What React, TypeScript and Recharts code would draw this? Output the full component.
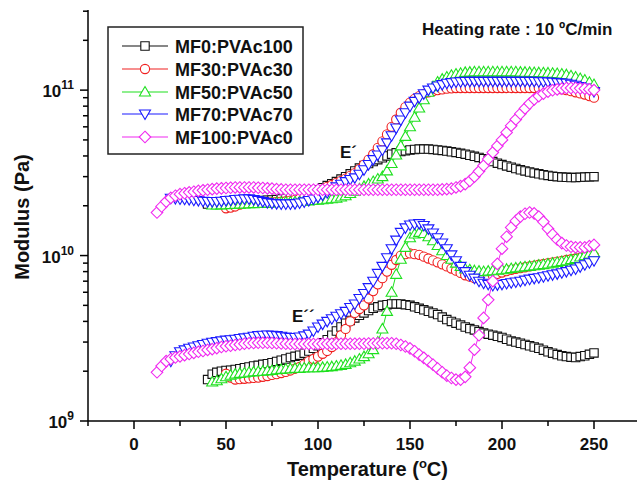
import React from "react";
import { Line, LineChart, XAxis, YAxis } from "recharts";

// temperature grid (°C), 2.5 degree steps
const temps = [
  12.5, 15, 17.5, 20, 22.5, 25, 27.5, 30, 32.5, 35,
  37.5, 40, 42.5, 45, 47.5, 50, 52.5, 55, 57.5, 60,
  62.5, 65, 67.5, 70, 72.5, 75, 77.5, 80, 82.5, 85,
  87.5, 90, 92.5, 95, 97.5, 100, 102.5, 105, 107.5, 110,
  112.5, 115, 117.5, 120, 122.5, 125, 127.5, 130, 132.5, 135,
  137.5, 140, 142.5, 145, 147.5, 150, 152.5, 155, 157.5, 160,
  162.5, 165, 167.5, 170, 172.5, 175, 177.5, 180, 182.5, 185,
  187.5, 190, 192.5, 195, 197.5, 200, 202.5, 205, 207.5, 210,
  212.5, 215, 217.5, 220, 222.5, 225, 227.5, 230, 232.5, 235,
  237.5, 240, 242.5, 245, 247.5, 250,
];

// values in GPa; each list starts at its own temperature
const mf0Start = 40;
const mf0Storage = [
  20.5, 20.6, 20.8, 20.9, 21.0, 21.0, 21.0, 21.1, 21.2, 21.2,
  21.3, 21.4, 21.5, 21.6, 21.7, 21.8, 22.0, 22.2, 22.5, 22.7,
  23.0, 23.5, 24.0, 24.5, 25.0, 25.7, 26.5, 27.2, 28.0, 29.0,
  30.0, 31.2, 32.5, 33.8, 35.0, 36.0, 37.0, 38.0, 39.0, 40.0,
  41.0, 41.8, 42.5, 43.0, 43.5, 43.8, 44.0, 44.0, 44.0, 43.8,
  43.5, 43.2, 42.8, 42.4, 42.0, 41.5, 41.0, 40.4, 39.8, 39.2,
  38.5, 37.8, 37.0, 36.2, 35.5, 34.8, 34.2, 33.6, 33.0, 32.5,
  32.0, 31.6, 31.2, 30.8, 30.5, 30.2, 30.0, 29.8, 29.7, 29.6,
  29.6, 29.7, 29.8, 29.9, 30.0,
];
const mf0Loss = [
  1.78, 1.92, 1.97, 2.0, 2.02, 2.03, 2.05, 2.07, 2.1, 2.12,
  2.15, 2.17, 2.2, 2.22, 2.25, 2.29, 2.33, 2.37, 2.42, 2.46,
  2.5, 2.57, 2.65, 2.75, 2.85, 2.97, 3.1, 3.3, 3.5, 3.7,
  3.9, 4.05, 4.2, 4.35, 4.5, 4.65, 4.8, 4.9, 5.0, 5.05,
  5.1, 5.1, 5.1, 5.05, 5.0, 4.9, 4.8, 4.7, 4.6, 4.5,
  4.4, 4.25, 4.1, 4.0, 3.9, 3.8, 3.7, 3.62, 3.55, 3.47,
  3.4, 3.35, 3.3, 3.25, 3.2, 3.12, 3.05, 3.0, 2.95, 2.9,
  2.85, 2.8, 2.75, 2.68, 2.62, 2.57, 2.52, 2.48, 2.45, 2.43,
  2.42, 2.45, 2.48, 2.53, 2.58,
];

const mf30Start = 50;
const mf30Storage = [
  19.3, 19.5, 19.8, 20.3, 20.7, 20.8, 20.8, 20.9, 21.0, 21.0,
  21.0, 21.1, 21.2, 21.3, 21.5, 21.7, 22.0, 22.5, 23.0, 23.6,
  24.2, 25.1, 26.0, 26.7, 27.5, 28.3, 29.2, 30.3, 31.5, 33.3,
  35.5, 38.0, 41.0, 44.8, 49.0, 54.0, 60.0, 66.5, 73.0, 79.0,
  84.0, 88.5, 92.0, 95.0, 97.0, 98.5, 100, 101, 102, 102.5,
  103, 103, 103, 103, 103, 103, 103, 103, 103, 103,
  103, 103, 103, 103, 103, 103, 103, 103, 103, 103,
  102.5, 102.3, 102, 101, 100, 98.5, 97, 95.5, 94, 92,
  90,
];
const mf30Loss = [
  1.93, 1.83, 1.78, 1.79, 1.8, 1.81, 1.82, 1.83, 1.85, 1.87,
  1.9, 1.92, 1.95, 1.98, 2.02, 2.07, 2.12, 2.2, 2.3, 2.37,
  2.45, 2.55, 2.65, 2.8, 3.0, 3.3, 3.6, 4.0, 4.5, 4.75,
  5.0, 5.5, 6.1, 6.7, 7.3, 8.0, 8.8, 9.4, 10.0, 10.2,
  10.3, 10.2, 10.1, 9.85, 9.6, 9.35, 9.1, 8.85, 8.6, 8.35,
  8.1, 7.85, 7.6, 7.45, 7.3, 7.3, 7.3, 7.45, 7.6, 7.75,
  7.9, 8.05, 8.2, 8.3, 8.4, 8.5, 8.6, 8.7, 8.8, 8.9,
  9.0, 9.1, 9.2, 9.3, 9.4, 9.5, 9.6, 9.7, 9.8, 9.9,
  10.0,
];

const mf50Start = 42.5;
const mf50Storage = [
  20.2, 20.2, 20.25, 20.3, 20.35, 20.4, 20.45, 20.5, 20.55, 20.6,
  20.65, 20.7, 20.75, 20.8, 20.9, 21.0, 21.05, 21.1, 21.15, 21.2,
  21.3, 21.4, 21.5, 21.6, 21.75, 21.9, 22.05, 22.2, 22.6, 23.0,
  23.7, 24.5, 25.3, 26.2, 27.1, 28.0, 29.0, 30.0, 32.5, 36.0,
  40.5, 46.0, 52.5, 60.0, 68.5, 78.0, 87.5, 97.0, 105, 112,
  116.5, 120, 123, 125, 126.5, 128, 128.5, 129, 129, 129,
  129, 129, 129, 129, 129, 129, 129, 128.5, 128.3, 128,
  127.8, 127.5, 127.3, 127, 126.5, 126, 125, 124, 122, 120,
  117.5, 115, 111.5, 108,
];
const mf50Loss = [
  1.72, 1.75, 1.8, 1.85, 1.89, 1.92, 1.94, 1.95, 1.97, 1.98,
  1.99, 2.0, 2.01, 2.02, 2.04, 2.05, 2.06, 2.07, 2.08, 2.08,
  2.09, 2.1, 2.1, 2.1, 2.11, 2.12, 2.13, 2.15, 2.17, 2.2,
  2.25, 2.3, 2.37, 2.45, 2.55, 2.7, 3.0, 3.6, 4.6, 6.0,
  7.7, 9.5, 11.2, 12.8, 13.5, 13.8, 13.6, 13.0, 12.3, 11.5,
  10.7, 10.0, 9.5, 9.0, 8.6, 8.3, 8.2, 8.1, 8.05, 8.0,
  8.05, 8.1, 8.15, 8.2, 8.27, 8.35, 8.42, 8.5, 8.55, 8.6,
  8.67, 8.75, 8.82, 8.9, 9.0, 9.1, 9.2, 9.3, 9.45, 9.6,
  9.8, 10.0, 10.2, 10.4,
];

const mf70Start = 20;
const mf70Storage = [
  22.2, 22.1, 22.0, 21.9, 21.8, 21.6, 21.5, 21.3, 21.2, 21.2,
  21.2, 21.3, 21.5, 21.6, 21.8, 21.9, 22.0, 22.0, 21.8, 21.5,
  21.2, 20.9, 20.7, 20.6, 20.5, 20.5, 20.5, 20.6, 20.8, 21.1,
  21.5, 22.0, 22.5, 23.2, 24.0, 25.0, 26.0, 27.0, 28.0, 28.8,
  29.5, 31.0, 33.0, 35.5, 38.0, 40.5, 43.5, 48.0, 53.0, 59.0,
  66.0, 73.0, 80.0, 85.5, 90.0, 95.0, 100, 103, 106, 108,
  110, 111, 112, 112.5, 113, 113, 113, 113, 113, 113,
  113, 113, 113, 113, 113, 113, 113, 113, 113, 113,
  112.5, 112.3, 112, 111.5, 111, 110.5, 110, 108.5, 107, 105,
  103, 100.5, 98,
];
const mf70Loss = [
  2.3, 2.48, 2.62, 2.69, 2.75, 2.8, 2.85, 2.9, 2.95, 2.99,
  3.02, 3.05, 3.08, 3.1, 3.12, 3.15, 3.18, 3.21, 3.25, 3.28,
  3.3, 3.31, 3.3, 3.28, 3.25, 3.22, 3.2, 3.2, 3.22, 3.27,
  3.35, 3.5, 3.7, 3.85, 4.0, 4.15, 4.3, 4.45, 4.6, 4.85,
  5.1, 5.5, 5.9, 6.4, 7.0, 7.8, 8.6, 9.7, 11.0, 12.4,
  13.8, 14.7, 15.3, 15.5, 15.6, 15.2, 14.5, 13.7, 12.8, 11.9,
  11.0, 10.1, 9.3, 8.6, 8.0, 7.6, 7.3, 7.0, 6.8, 6.7,
  6.6, 6.65, 6.7, 6.78, 6.85, 6.92, 7.0, 7.1, 7.2, 7.28,
  7.35, 7.45, 7.55, 7.65, 7.75, 7.88, 8.0, 8.15, 8.3, 8.55,
  8.8, 9.05, 9.3,
];

const mf100Start = 12.5;
const mf100Storage = [
  18.2, 19.8, 21.2, 22.3, 23.0, 23.5, 23.8, 24.1, 24.3, 24.6,
  24.8, 25.0, 25.2, 25.4, 25.5, 25.6, 25.7, 25.8, 25.8, 25.8,
  25.8, 25.8, 25.7, 25.6, 25.5, 25.4, 25.2, 25.1, 25.0, 25.0,
  25.0, 25.0, 25.0, 25.0, 25.0, 25.0, 25.0, 25.0, 25.0, 25.0,
  25.0, 25.0, 25.0, 25.0, 25.0, 25.0, 25.0, 25.0, 25.0, 25.0,
  25.0, 25.0, 25.0, 25.0, 25.0, 25.0, 25.0, 25.0, 25.0, 25.0,
  25.0, 25.0, 25.1, 25.2, 25.4, 25.8, 26.3, 27.0, 28.3, 30.0,
  32.3, 35.0, 38.3, 42.0, 46.0, 50.0, 55.5, 61.0, 66.5, 72.0,
  77.5, 83.0, 88.0, 92.0, 95.3, 98.0, 99.8, 101, 102, 103,
  103, 103, 102.5, 102, 101, 100,
];
const mf100Loss = [
  1.97, 2.15, 2.3, 2.37, 2.42, 2.46, 2.5, 2.54, 2.58, 2.62,
  2.65, 2.69, 2.72, 2.76, 2.8, 2.83, 2.85, 2.88, 2.9, 2.93,
  2.95, 2.96, 2.97, 2.97, 2.97, 2.96, 2.95, 2.94, 2.93, 2.92,
  2.92, 2.92, 2.92, 2.92, 2.92, 2.92, 2.93, 2.93, 2.93, 2.93,
  2.93, 2.93, 2.93, 2.93, 2.93, 2.93, 2.94, 2.94, 2.95, 2.95,
  2.95, 2.95, 2.93, 2.88, 2.82, 2.75, 2.64, 2.52, 2.41, 2.3,
  2.19, 2.08, 1.97, 1.88, 1.82, 1.78, 1.78, 1.85, 2.1, 2.7,
  3.3, 4.2, 5.4, 7.0, 8.9, 11.0, 13.0, 14.8, 16.2, 17.2,
  17.9, 18.2, 18.0, 17.2, 16.0, 14.5, 13.4, 12.5, 11.9, 11.5,
  11.3, 11.2, 11.2, 11.2, 11.4, 11.6,
];

const xTicks = [-25, 0, 25, 50, 75, 100, 125, 150, 175, 200, 225, 250, 275];
const yTicks = [
  1e9, 2e9, 3e9, 4e9, 5e9, 6e9, 7e9, 8e9, 9e9, 1e10, 2e10, 3e10, 4e10, 5e10, 6e10, 7e10, 8e10, 9e10, 1e11,
  2e11, 3e11,
];

type Shape = "square" | "circle" | "up" | "down" | "diamond";

const series = [
  { id: "mf0", name: "MF0:PVAc100", color: "#111111", shape: "square" as Shape, start: mf0Start, storage: mf0Storage, loss: mf0Loss },
  { id: "mf30", name: "MF30:PVAc30", color: "#f02020", shape: "circle" as Shape, start: mf30Start, storage: mf30Storage, loss: mf30Loss },
  { id: "mf50", name: "MF50:PVAc50", color: "#1ee01e", shape: "up" as Shape, start: mf50Start, storage: mf50Storage, loss: mf50Loss },
  { id: "mf70", name: "MF70:PVAc70", color: "#1a1aff", shape: "down" as Shape, start: mf70Start, storage: mf70Storage, loss: mf70Loss },
  { id: "mf100", name: "MF100:PVAc0", color: "#f028f0", shape: "diamond" as Shape, start: mf100Start, storage: mf100Storage, loss: mf100Loss },
];

const rows = temps.map((t) => {
  const row: Record<string, number | null> = { t };
  series.forEach((s) => {
    const i = Math.round((t - s.start) / 2.5);
    row[s.id + "E1"] = i >= 0 && i < s.storage.length ? s.storage[i] * 1e9 : null;
    row[s.id + "E2"] = i >= 0 && i < s.loss.length ? s.loss[i] * 1e9 : null;
  });
  return row;
});

function Marker({ cx, cy, shape, color }: { cx: number; cy: number; shape: Shape; color: string }) {
  const common = { fill: "#fff", stroke: color, strokeWidth: 1.1 };
  if (shape === "circle") return <circle cx={cx} cy={cy} r={4.6} {...common} />;
  let d = "";
  if (shape === "square") d = `M${cx - 4.2},${cy - 4.2}h8.4v8.4h-8.4Z`;
  if (shape === "up") d = `M${cx},${cy - 5.5}L${cx + 5.5},${cy + 4}L${cx - 5.5},${cy + 4}Z`;
  if (shape === "down") d = `M${cx},${cy + 5.5}L${cx + 5.5},${cy - 4}L${cx - 5.5},${cy - 4}Z`;
  if (shape === "diamond") d = `M${cx},${cy - 5.8}L${cx + 5.8},${cy}L${cx},${cy + 5.8}L${cx - 5.8},${cy}Z`;
  return <path d={d} {...common} />;
}

const makeDot = (shape: Shape, color: string) => (props: any) => {
  const { cx, cy, index } = props;
  if (cx == null || cy == null || props.value == null) return <g key={index} />;
  return <Marker key={index} cx={cx} cy={cy} shape={shape} color={color} />;
};

function XTick(props: any) {
  const { x, y, payload } = props;
  const v = payload.value;
  const major = v % 50 === 0;
  return (
    <g>
      <line x1={x} x2={x} y1={y} y2={y + (major ? 8 : 5)} stroke="#000" strokeWidth={1.5} />
      {major && (
        <text x={x} y={y + 29} textAnchor="middle" fontSize={17} fontWeight="bold" fill="#111">
          {v}
        </text>
      )}
    </g>
  );
}

function YTick(props: any) {
  const { x, y, payload } = props;
  const v = payload.value;
  const exp = Math.round(Math.log10(v));
  const major = Math.abs(v - Math.pow(10, exp)) < v * 1e-6;
  return (
    <g>
      <line x1={x - (major ? 8 : 5)} x2={x} y1={y} y2={y} stroke="#000" strokeWidth={1.5} />
      {major && (
        <text x={x - 14} y={y + 7} textAnchor="end" fontSize={17} fontWeight="bold" fill="#111">
          10
          <tspan dy={-8} fontSize={12}>
            {exp}
          </tspan>
        </text>
      )}
    </g>
  );
}

const font = "'Liberation Sans', Arial, Helvetica, sans-serif";

export default function App() {
  const legendRows = [46, 69, 92, 114, 137];
  return (
    <div style={{ position: "absolute", left: 0, top: 0, width: 637, height: 483, overflow: "hidden", background: "#fff", fontFamily: font }}>
      <LineChart width={660} height={483} data={rows} margin={{ top: 10, right: 20, bottom: 0, left: 28 }}>
        <XAxis
          xAxisId="top"
          orientation="top"
          dataKey="t"
          type="number"
          domain={[-25, 275]}
          height={0}
          tick={false}
          tickLine={false}
          axisLine={{ stroke: "#000", strokeWidth: 1.5 }}
        />
        <XAxis
          dataKey="t"
          type="number"
          domain={[-25, 275]}
          ticks={xTicks}
          interval={0}
          height={62}
          tickSize={0}
          tickMargin={0}
          tickLine={false}
          tick={<XTick />}
          axisLine={{ stroke: "#000", strokeWidth: 1.5 }}
        />
        <YAxis
          scale="log"
          type="number"
          domain={[1e9, 3.05e11]}
          allowDataOverflow
          ticks={yTicks}
          interval={0}
          width={60}
          tickSize={0}
          tickMargin={0}
          tickLine={false}
          tick={<YTick />}
          axisLine={{ stroke: "#000", strokeWidth: 1.5 }}
        />
        {series.map((s) => (
          <Line
            key={s.id + "E1"}
            dataKey={s.id + "E1"}
            stroke={s.color}
            strokeWidth={1}
            dot={makeDot(s.shape, s.color)}
            activeDot={false}
            isAnimationActive={false}
            connectNulls={false}
          />
        ))}
        {series.map((s) => (
          <Line
            key={s.id + "E2"}
            dataKey={s.id + "E2"}
            stroke={s.color}
            strokeWidth={1}
            dot={makeDot(s.shape, s.color)}
            activeDot={false}
            isAnimationActive={false}
            connectNulls={false}
          />
        ))}
      </LineChart>
      <svg width={637} height={483} style={{ position: "absolute", left: 0, top: 0, pointerEvents: "none" }} fontFamily={font}>
        <rect x={108} y={27} width={195} height={127} fill="#fff" stroke="#222" strokeWidth={1.5} />
        {series.map((s, i) => (
          <g key={s.id}>
            <line x1={122} x2={168} y1={legendRows[i]} y2={legendRows[i]} stroke={s.color} strokeWidth={1.2} />
            <Marker cx={145} cy={legendRows[i]} shape={s.shape} color={s.color} />
            <text x={175} y={legendRows[i] + 6.5} fontSize={18} fontWeight="bold" fill="#111">
              {s.name}
            </text>
          </g>
        ))}
        <text x={422} y={35} fontSize={17} fontWeight="bold" fill="#111">
          Heating rate : 10 ºC/min
        </text>
        <text x={340} y={158} fontSize={17} fontWeight="bold" fill="#111">
          E´
        </text>
        <text x={292} y={322} fontSize={17} fontWeight="bold" fill="#111">
          E´´
        </text>
        <text x={287} y={476} fontSize={20} fontWeight="bold" fill="#111">
          Temperature (
          <tspan dy={-8} fontSize={13}>
            o
          </tspan>
          <tspan dy={8}>C)</tspan>
        </text>
        <text x={29} y={217} transform="rotate(-90 29 217)" textAnchor="middle" fontSize={20} fontWeight="bold" fill="#111">
          Modulus (Pa)
        </text>
      </svg>
    </div>
  );
}
